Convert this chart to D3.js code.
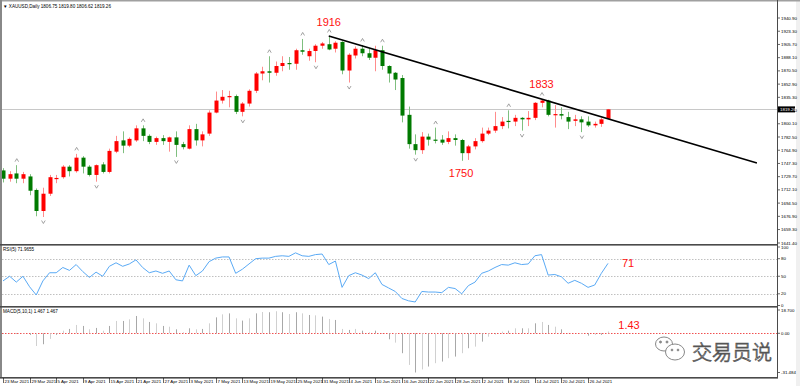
<!DOCTYPE html>
<html>
<head>
<meta charset="utf-8">
<script src="https://cdn.jsdelivr.net/npm/d3@7"></script>
<style>
  body { margin: 0; background: #fff; }
  svg { display: block; font-family: "Liberation Sans", Arial, sans-serif; }
</style>
</head>
<body>
<svg id="chart" width="800" height="386"></svg>
<script>
// Trading days shown on the chart (one candle each)
var dates = ['2021-03-23','2021-03-24','2021-03-25','2021-03-26','2021-03-29','2021-03-30','2021-03-31',
  '2021-04-01','2021-04-05','2021-04-06','2021-04-07','2021-04-08','2021-04-09','2021-04-12','2021-04-13',
  '2021-04-14','2021-04-15','2021-04-16','2021-04-19','2021-04-20','2021-04-21','2021-04-22','2021-04-23',
  '2021-04-26','2021-04-27','2021-04-28','2021-04-29','2021-04-30','2021-05-03','2021-05-04','2021-05-05',
  '2021-05-06','2021-05-07','2021-05-10','2021-05-11','2021-05-12','2021-05-13','2021-05-14','2021-05-17',
  '2021-05-18','2021-05-19','2021-05-20','2021-05-21','2021-05-24','2021-05-25','2021-05-26','2021-05-27',
  '2021-05-28','2021-05-31','2021-06-01','2021-06-02','2021-06-03','2021-06-04','2021-06-07','2021-06-08',
  '2021-06-09','2021-06-10','2021-06-11','2021-06-14','2021-06-15','2021-06-16','2021-06-17','2021-06-18',
  '2021-06-21','2021-06-22','2021-06-23','2021-06-24','2021-06-25','2021-06-28','2021-06-29','2021-06-30',
  '2021-07-01','2021-07-02','2021-07-05','2021-07-06','2021-07-07','2021-07-08','2021-07-09','2021-07-12',
  '2021-07-13','2021-07-14','2021-07-15','2021-07-16','2021-07-19','2021-07-20','2021-07-21','2021-07-22',
  '2021-07-23','2021-07-26','2021-07-27','2021-07-28','2021-07-29'];

// OHLC of XAUUSD daily
var opens = [1738,1727,1734,1727,1730,1712,1684,1707,1727,1729,1743,1737,1755,1743,1732,1746,1736,1763,1778,1771,
  1778,1794,1784,1776,1781,1776,1782,1773,1767,1793,1778,1787,1815,1831,1836,1837,1816,1827,1844,1867,
  1870,1868,1877,1881,1880,1898,1890,1897,1904,1906,1900,1909,1871,1891,1900,1894,1888,1898,1877,1868,
  1861,1812,1773,1765,1783,1779,1779,1776,1781,1778.5,1761,1770,1777,1787,1791,1797,1804,1803,1808,1806,
  1808,1828,1831,1812,1813,1809,1804,1806,1803,1798,1800,1806.75];
var highs = [1741,1737,1745,1736,1733,1714,1715,1732,1732,1745,1745,1760,1757,1745,1746,1749,1767,1784,1790,1782,
  1798,1798,1786,1783,1785,1783,1790,1776,1798,1800,1790,1818,1843,1845,1844,1839,1829,1846,1869,1876,
  1890,1883,1890,1889,1900,1913,1900,1906,1909,1917,1910,1910,1894,1903,1905,1900,1904,1904,1878,1869,
  1865,1823,1786,1789,1787,1795,1785,1790,1786,1780,1772,1781,1795,1795,1816,1809,1818,1812,1809,1817,
  1829,1833,1832,1825,1822,1816,1812,1810,1810,1803,1808,1819.80];
var lows = [1722,1723,1721,1721,1705,1677,1676,1704,1721,1727,1730,1735,1734,1730,1723,1734,1734,1761,1761,1769,
  1776,1777,1773,1772,1772,1763,1756,1766,1766,1771,1770,1784,1814,1827,1822,1813,1810,1823,1841,1858,
  1855,1864,1870,1872,1872,1892,1884,1882,1900,1898,1895,1866,1855,1887,1890,1885,1870,1872,1855,1845,
  1802,1767,1759,1760,1771,1774,1772,1773,1771,1750.8,1752,1766,1775,1785,1788,1793,1794,1797,1791,1797,
  1805,1822,1810,1795,1806,1793,1797,1789,1796,1795,1796,1806.62];
var closes = [1727,1733,1727,1733,1711,1684,1707,1729,1728,1743,1737,1755,1743,1732,1745,1736,1764,1777,1771,1780,
  1794,1784,1776,1781,1777,1782,1772,1769,1793,1778,1786,1815,1831,1836,1837,1816,1827,1844,1867,1870,
  1868,1877,1881,1880,1898,1896,1897,1904,1907,1899,1908,1871,1892,1900,1894,1888,1898,1877,1867,1859,
  1811,1773,1765,1783,1779,1778.5,1775,1781,1778.5,1761,1770,1777,1787,1791,1797,1803,1803,1808,1806,1808,
  1828,1831,1812,1813,1811,1803,1806,1802,1798,1800,1806,1819.26];

// Bill Williams fractals (bar indexes)
var fractalUp = [2, 11, 21, 40, 45, 49, 54, 57, 65, 76, 81];
var fractalDown = [6, 14, 26, 36, 47, 52, 62, 78, 87];

// RSI(5) per bar
var rsiValues = [42,50,40,50,32,18,42,56,56,65,60,70,58,48,57,50,67,73,67,71,
  78,65,56,59,55,59,44,42,69,51,59,75,81,83,83,55,62,71,80,81,
  81,84,85,84,90,85,84,87,88,70,76,31,51,56,52,46,56,36,30,24,
  12,8,6,24,23,23,22,31,29,20,34,40,55,59,65,70,69,73,70,71,
  85,87,52,53,49,38,43,38,31,35,55,72];

// MACD(5,10,1) main line per bar
var macdValues = [-0.4,-0.3,-0.6,-0.3,-1.3,-10.2,-8.8,-4.5,-1.3,2.1,3.5,6.7,5.9,3.2,4.3,2.1,5.9,9.9,9.9,11.2,
  13.9,12.0,9.1,8.0,5.9,5.3,3.2,0.8,4.0,3.2,3.5,8.0,12.8,15.2,16.0,12.0,10.2,12.0,16.0,17.1,
  16.9,17.7,16.9,15.5,16.9,16.0,14.7,14.4,13.4,11.5,10.7,3.5,2.7,3.5,2.1,0.8,2.1,-0.5,-4.8,-7.5,
  -16.0,-25.4,-31.484,-29.0,-26.7,-24.0,-22.7,-20.0,-18.7,-16.0,-12.0,-10.7,-6.7,-2.7,-0.8,1.3,2.1,4.0,4.0,4.0,
  8.0,9.1,6.7,5.3,3.2,0.3,0.0,-0.5,-1.9,-1.3,-1.3,1.43];

// Axis labels on the right
var priceTicks = [1940.90,1923.30,1905.70,1888.10,1870.50,1852.90,1835.30,1817.70,1800.10,1782.50,
  1764.90,1747.30,1729.70,1712.10,1694.50,1676.90,1659.30,1641.40];
var rsiTicks = [0, 20, 50, 80, 100];
var rsiLevels = [20, 50, 80];
var macdTicks = [-31.484, 0, 18.700];

// Hand drawn trend line (bar index, price)
var trendIdx = [49, 113.4];
var trendPrice = [1917, 1748];

// Red notes written on the chart
var priceNotes = [{i: 49, p: 1916, text: '1916', dy: -11},
                  {i: 81, p: 1833, text: '1833', dy: -11},
                  {i: 68.9, p: 1750, text: '1750', dy: 16}];
var lastPrice = 1819.26;
var header = '\u25BC XAUUSD,Daily  1806.75 1819.80 1806.62 1819.26';

var svg = d3.select('#chart');
var W = 800, axisX = 777;

var parse = d3.timeParse('%Y-%m-%d');
var fmtDate = d3.timeFormat('%-d %b %Y');

var x = d3.scaleLinear().domain([0, dates.length - 1]).range([3, 608]);
var yPrice = d3.scaleLinear().domain([1641.4, 1940.9]).range([243, 18]);
var yRsi = d3.scaleLinear().domain([0, 100]).range([305.5, 247]);
var yMacd = d3.scaleLinear().domain([-31.484, 18.7]).range([372.5, 310]);

var upColor = '#ff0000', downColor = '#007a00';

// Frame / background
svg.append('rect').attr('x', 0).attr('y', 0).attr('width', W).attr('height', 386).attr('fill', '#fff');
svg.append('rect').attr('x', 796).attr('y', 0).attr('width', 4).attr('height', 386).attr('fill', '#f0f0f0');

// clip for the main price area
svg.append('clipPath').attr('id', 'mainClip')
  .append('rect').attr('x', 2).attr('y', 3).attr('width', axisX - 2).attr('height', 241);

var main = svg.append('g').attr('clip-path', 'url(#mainClip)');

// last price line
main.append('line')
  .attr('x1', 2).attr('x2', axisX)
  .attr('y1', Math.round(yPrice(lastPrice)) + 0.5).attr('y2', Math.round(yPrice(lastPrice)) + 0.5)
  .attr('stroke', '#c8c8c8').attr('stroke-width', 1);

// candles
var idx = d3.range(dates.length);
var candles = main.selectAll('g.candle').data(idx).enter().append('g').attr('class', 'candle');

candles.append('line')
  .attr('x1', function(i) { return Math.round(x(i)) + 0.5; })
  .attr('x2', function(i) { return Math.round(x(i)) + 0.5; })
  .attr('y1', function(i) { return yPrice(highs[i]); })
  .attr('y2', function(i) { return yPrice(lows[i]); })
  .attr('stroke', function(i) { return closes[i] >= opens[i] ? '#ff8c8c' : '#7fbf7f'; })
  .attr('stroke-width', 1);

candles.append('rect')
  .attr('x', function(i) { return Math.round(x(i)) - 1.5; })
  .attr('width', 4)
  .attr('y', function(i) { return yPrice(Math.max(opens[i], closes[i])); })
  .attr('height', function(i) { return Math.max(1.2, Math.abs(yPrice(opens[i]) - yPrice(closes[i]))); })
  .attr('fill', function(i) { return closes[i] >= opens[i] ? upColor : downColor; });

// fractal arrows
function arrowPath(cx, cy, up) {
  var d = up ? -1 : 1;
  return 'M' + (cx - 1.8) + ',' + (cy - d * 1.5) + 'L' + cx + ',' + (cy + d * 1.5) + 'L' + (cx + 1.8) + ',' + (cy - d * 1.5);
}
main.selectAll('path.fup').data(fractalUp).enter().append('path')
  .attr('d', function(i) { return arrowPath(x(i) + 0.5, yPrice(highs[i]) - 5, true); })
  .attr('fill', 'none').attr('stroke', '#8a8a8a').attr('stroke-width', 0.8);
main.selectAll('path.fdn').data(fractalDown).enter().append('path')
  .attr('d', function(i) { return arrowPath(x(i) + 0.5, yPrice(lows[i]) + 5, false); })
  .attr('fill', 'none').attr('stroke', '#8a8a8a').attr('stroke-width', 0.8);

// trend line
main.append('line')
  .attr('x1', x(trendIdx[0])).attr('y1', yPrice(trendPrice[0]))
  .attr('x2', x(trendIdx[1])).attr('y2', yPrice(trendPrice[1]))
  .attr('stroke', '#000').attr('stroke-width', 1.6);

// red price notes
main.selectAll('text.note').data(priceNotes).enter().append('text')
  .attr('x', function(d) { return x(d.i); })
  .attr('y', function(d) { return yPrice(d.p) + d.dy; })
  .attr('text-anchor', 'middle').attr('font-size', 11).attr('fill', '#ff1010')
  .text(function(d) { return d.text; });

// header
svg.append('text').attr('x', 3).attr('y', 8).attr('font-size', 4.6).attr('fill', '#000').text(header);

// ---- RSI panel ----
var rsiG = svg.append('g');
rsiG.selectAll('line.lvl').data(rsiLevels).enter().append('line')
  .attr('x1', 2).attr('x2', axisX)
  .attr('y1', function(v) { return Math.round(yRsi(v)) + 0.5; })
  .attr('y2', function(v) { return Math.round(yRsi(v)) + 0.5; })
  .attr('stroke', '#c0c0c0').attr('stroke-dasharray', '1.5,1.5').attr('stroke-width', 1);

rsiG.append('path')
  .datum(idx)
  .attr('d', d3.line().x(function(i) { return x(i); }).y(function(i) { return yRsi(rsiValues[i]); }))
  .attr('fill', 'none').attr('stroke', '#5aaaf5').attr('stroke-width', 1);

rsiG.append('text').attr('x', 3).attr('y', 251).attr('font-size', 4.6).text('RSI(5) 71.9655');
rsiG.append('text').attr('x', x(dates.length - 1) + 20).attr('y', yRsi(rsiValues[dates.length - 1]) + 4)
  .attr('text-anchor', 'middle').attr('font-size', 11).attr('fill', '#ff1010').text('71');

// ---- MACD panel ----
var macdG = svg.append('g');
macdG.append('line')
  .attr('x1', 2).attr('x2', axisX)
  .attr('y1', Math.round(yMacd(0)) + 0.5).attr('y2', Math.round(yMacd(0)) + 0.5)
  .attr('stroke', '#f05050').attr('stroke-dasharray', '1.5,1.5').attr('stroke-width', 1);

macdG.selectAll('line.hist').data(idx).enter().append('line')
  .attr('x1', function(i) { return Math.round(x(i)) + 0.5; })
  .attr('x2', function(i) { return Math.round(x(i)) + 0.5; })
  .attr('y1', yMacd(0))
  .attr('y2', function(i) { return yMacd(macdValues[i]); })
  .attr('stroke', function(i) { return i % 2 ? '#d0d0d0' : '#a8a8a8'; })
  .attr('stroke-width', 1);

macdG.append('text').attr('x', 3).attr('y', 313).attr('font-size', 4.6).text('MACD(5,10,1) 1.467 1.467');
macdG.append('text').attr('x', x(dates.length - 1) + 21).attr('y', yMacd(macdValues[dates.length - 1]) - 3)
  .attr('text-anchor', 'middle').attr('font-size', 11).attr('fill', '#ff1010').text('1.43');

// ---- panel borders ----
svg.append('rect').attr('x', 0).attr('y', 0).attr('width', W).attr('height', 1.5).attr('fill', '#a0a0a0');
svg.append('rect').attr('x', 0).attr('y', 0).attr('width', 2).attr('height', 378).attr('fill', '#888');
[244, 306, 377].forEach(function(yy) {
  svg.append('rect').attr('x', 0).attr('y', yy).attr('width', axisX + 1).attr('height', 1.6).attr('fill', '#4a4a4a');
});
svg.append('rect').attr('x', axisX).attr('y', 0).attr('width', 1).attr('height', 378).attr('fill', '#4a4a4a');

// ---- right axes ----
var axisG = svg.append('g').attr('font-size', 4.4).attr('fill', '#000');
function rightTicks(vals, scale, fmt) {
  vals.forEach(function(v) {
    var yy = scale(v);
    axisG.append('line').attr('x1', axisX + 1).attr('x2', axisX + 3).attr('y1', yy).attr('y2', yy)
      .attr('stroke', '#000').attr('stroke-width', 0.6);
    axisG.append('text').attr('x', axisX + 4).attr('y', yy + 1.6).text(fmt(v));
  });
}
rightTicks(priceTicks, yPrice, d3.format('.2f'));
rightTicks(rsiTicks, yRsi, d3.format('d'));
rightTicks(macdTicks, yMacd, function(v) { return v === 0 ? '0.00' : (v > 0 ? '18.700' : '-31.484'); });

// last price box
var lpY = yPrice(lastPrice);
axisG.append('rect').attr('x', axisX + 1).attr('y', lpY - 3).attr('width', 17).attr('height', 6).attr('fill', '#000');
axisG.append('text').attr('x', axisX + 3).attr('y', lpY + 1.6).attr('fill', '#fff').text(d3.format('.2f')(lastPrice));

// ---- date axis ----
var dateTicks = d3.range(0, dates.length, 4);
var dateG = svg.append('g').attr('font-size', 4.4).attr('fill', '#000');
dateTicks.forEach(function(i) {
  var xx = Math.round(x(i)) + 0.5;
  dateG.append('line').attr('x1', xx).attr('x2', xx).attr('y1', 378).attr('y2', 383)
    .attr('stroke', '#000').attr('stroke-width', 0.6);
  dateG.append('text').attr('x', xx + 1).attr('y', 383).text(fmtDate(parse(dates[i])));
});

// ---- watermark ----
var wm = svg.append('g').attr('fill', 'none').attr('stroke', '#888').attr('stroke-width', 1);
wm.append('ellipse').attr('cx', 664).attr('cy', 344).attr('rx', 8.5).attr('ry', 7);
wm.append('ellipse').attr('cx', 675).attr('cy', 352).attr('rx', 9.5).attr('ry', 8).attr('fill', '#fff');
wm.append('circle').attr('cx', 660.5).attr('cy', 342).attr('r', 1).attr('fill', '#888');
wm.append('circle').attr('cx', 667).attr('cy', 342).attr('r', 1).attr('fill', '#888');
wm.append('circle').attr('cx', 672).attr('cy', 350).attr('r', 0.9).attr('fill', '#888');
wm.append('circle').attr('cx', 678).attr('cy', 350).attr('r', 0.9).attr('fill', '#888');
svg.append('text').attr('x', 692).attr('y', 360).attr('font-size', 20)
  .attr('font-family', '"Noto Sans CJK SC", sans-serif').attr('font-weight', 300)
  .attr('fill', '#fff').attr('stroke', '#555').attr('stroke-width', 0.8).text('交易员说');
</script>
</body>
</html>
